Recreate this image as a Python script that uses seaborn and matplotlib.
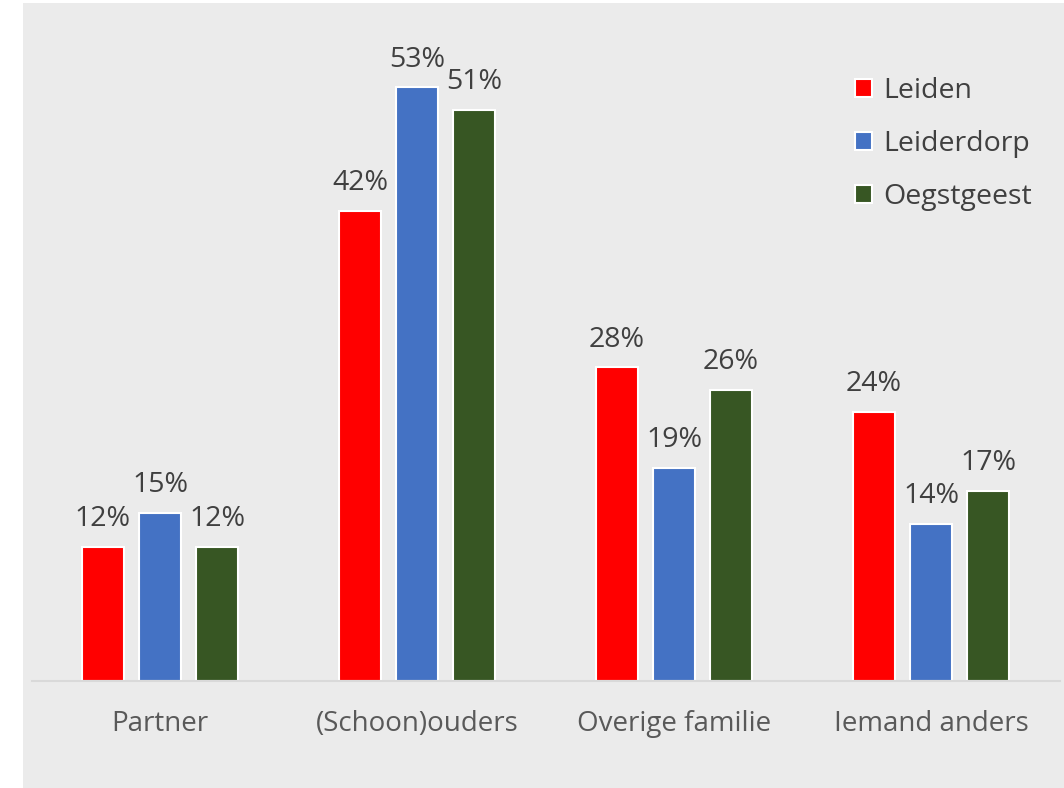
import matplotlib
matplotlib.use("Agg")
import matplotlib.pyplot as plt
import matplotlib.patches as mpatches
import seaborn as sns
import pandas as pd

# Data
categories = ["Partner", "(Schoon)ouders", "Overige familie", "Iemand anders"]
places = ["Leiden", "Leiderdorp", "Oegstgeest"]
leiden = [12, 42, 28, 24]
leiderdorp = [15, 53, 19, 14]
oegstgeest = [12, 51, 26, 17]
colors = ["#FF0000", "#4472C4", "#375623"]

df = pd.DataFrame({
    "categorie": categories * 3,
    "plaats": [p for p in places for _ in categories],
    "waarde": leiden + leiderdorp + oegstgeest,
})

sns.set_style("white")
plt.rcParams["font.family"] = ["Open Sans", "DejaVu Sans"]

fig = plt.figure(figsize=(10.64, 7.88), dpi=100)
fig.patch.set_facecolor("white")
# gray chart area (behind the axes)
fig.patches.append(mpatches.Rectangle((23 / 1064, 0), 1 - 23 / 1064, 1 - 3 / 788,
                                      transform=fig.transFigure, facecolor="#EBEBEB",
                                      edgecolor="none", zorder=-5))

ax = fig.add_axes([31.5 / 1064, 107 / 788, 1028 / 1064, 672 / 788])
ax.set_facecolor("none")

sns.barplot(data=df, x="categorie", y="waarde", hue="plaats", palette=colors,
            saturation=1, width=0.666, gap=0.25, edgecolor="white", linewidth=1.5, ax=ax)

ax.set_xlim(-0.5, 3.5)
ax.set_ylim(0, 60)

for cont in ax.containers:
    for bar in cont:
        h = bar.get_height()
        ax.annotate(f"{h:.0f}%", (bar.get_x() + bar.get_width() / 2, h),
                    xytext=(0, 15), textcoords="offset points", ha="center",
                    va="baseline", fontsize=20.5, color="#404040")

ax.set_xlabel("")
ax.set_ylabel("")
ax.set_yticks([])
ax.tick_params(axis="x", length=0, pad=21, labelsize=20, labelcolor="#595959")
for s in ["top", "right", "left"]:
    ax.spines[s].set_visible(False)
ax.spines["bottom"].set_color("#D9D9D9")
ax.spines["bottom"].set_linewidth(1.5)

leg = ax.legend(loc="upper left", bbox_to_anchor=(855 / 1064, 711 / 788),
                bbox_transform=fig.transFigure, frameon=False, fontsize=20.5,
                handlelength=0.58, handleheight=0.58, handletextpad=0.42,
                labelspacing=0.88, borderpad=0, borderaxespad=0)
for t in leg.get_texts():
    t.set_color("#404040")

fig.savefig("out.png", dpi=100)
